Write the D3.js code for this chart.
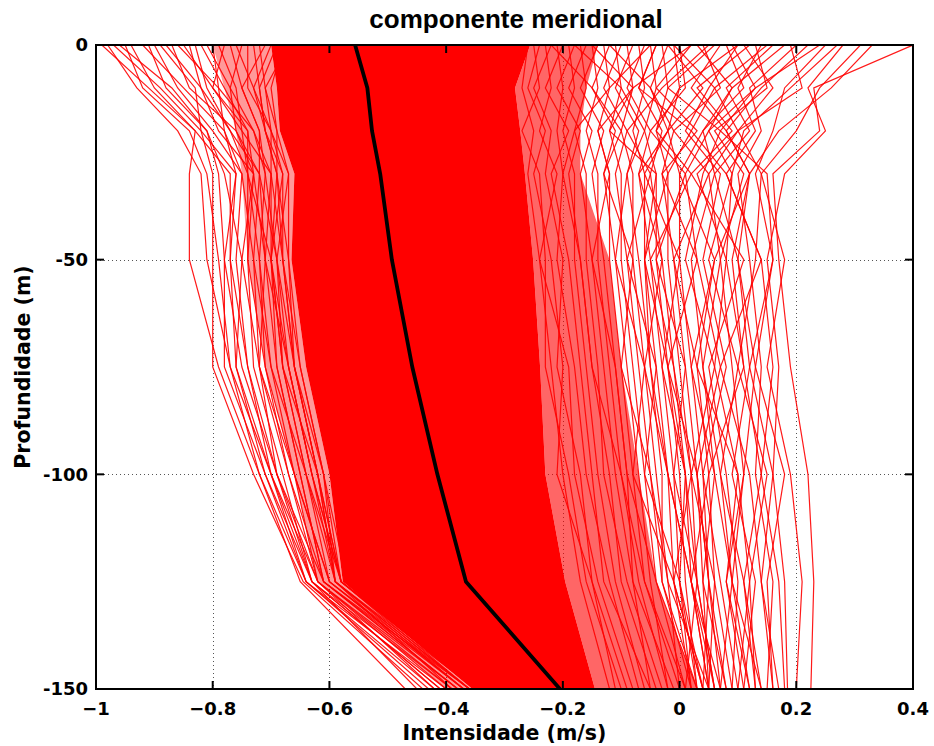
<!DOCTYPE html>
<html>
<head>
<meta charset="utf-8">
<script src="https://cdn.jsdelivr.net/npm/d3@7"></script>
<style>
    body { margin: 0; background: #fff; }
    svg text { font-family: 'DejaVu Sans', Verdana, sans-serif; font-weight: bold; fill: #000; }
</style>
</head>
<body>
<div id="chart"></div>
<script>
// Depth levels of every profile (m)
const depths = [0, -10, -20, -30, -50, -75, -100, -125, -150];

// Mean profile (black line)
const meanProfile = [-0.556, -0.535, -0.527, -0.513, -0.493, -0.458, -0.415, -0.366, -0.205];

// Edges of the solid red core where the profiles overlap completely
const coreLeft = [-0.70, -0.69, -0.685, -0.66, -0.665, -0.64, -0.60, -0.577, -0.355];
const coreRight = [-0.256, -0.282, -0.273, -0.265, -0.251, -0.239, -0.23, -0.196, -0.145];

// Outer edges of the zones where profiles are still packed tightly
const fringeLeft = [-0.80, -0.78, -0.76, -0.75, -0.74, -0.71, -0.66, -0.62, -0.40];
const fringeRight = [-0.14, -0.16, -0.17, -0.17, -0.12, -0.10, -0.07, -0.04, 0.03];

// Individual profiles on the left side of the cloud
const leftProfiles = [
    [-0.99, -0.91, -0.83, -0.84, -0.84, -0.79, -0.72, -0.65, -0.47],
    [-0.98, -0.93, -0.86, -0.82, -0.81, -0.77, -0.70, -0.63, -0.45],
    [-0.97, -0.89, -0.82, -0.80, -0.80, -0.80, -0.73, -0.645, -0.44],
    [-0.96, -0.87, -0.81, -0.79, -0.78, -0.78, -0.71, -0.64, -0.42],
    [-0.95, -0.92, -0.84, -0.81, -0.79, -0.77, -0.72, -0.64, -0.43],
    [-0.94, -0.90, -0.83, -0.77, -0.77, -0.76, -0.70, -0.64, -0.40],
    [-0.92, -0.85, -0.78, -0.76, -0.78, -0.75, -0.69, -0.63, -0.41],
    [-0.91, -0.88, -0.81, -0.78, -0.75, -0.76, -0.71, -0.63, -0.41],
    [-0.90, -0.86, -0.80, -0.75, -0.76, -0.74, -0.69, -0.62, -0.38],
    [-0.89, -0.83, -0.82, -0.76, -0.77, -0.74, -0.70, -0.62, -0.39],
    [-0.88, -0.82, -0.77, -0.74, -0.74, -0.73, -0.68, -0.63, -0.39],
    [-0.87, -0.84, -0.76, -0.73, -0.75, -0.72, -0.67, -0.61, -0.37],
    [-0.86, -0.79, -0.78, -0.75, -0.73, -0.72, -0.69, -0.61, -0.38],
    [-0.85, -0.80, -0.75, -0.74, -0.72, -0.71, -0.66, -0.62, -0.40],
    [-0.84, -0.82, -0.79, -0.73, -0.74, -0.71, -0.67, -0.62, -0.42],
    [-0.83, -0.81, -0.77, -0.72, -0.73, -0.70, -0.66, -0.60, -0.36],
    [-0.82, -0.78, -0.74, -0.73, -0.71, -0.69, -0.65, -0.61, -0.38],
    [-0.81, -0.77, -0.76, -0.72, -0.71, -0.72, -0.66, -0.60, -0.37],
    [-0.80, -0.79, -0.73, -0.71, -0.72, -0.70, -0.64, -0.59, -0.35],
    [-0.79, -0.76, -0.75, -0.70, -0.70, -0.68, -0.64, -0.60, -0.37],
    [-0.78, -0.80, -0.74, -0.74, -0.70, -0.69, -0.65, -0.61, -0.36],
    [-0.77, -0.75, -0.72, -0.71, -0.69, -0.67, -0.63, -0.58, -0.34],
    [-0.76, -0.73, -0.71, -0.69, -0.70, -0.68, -0.62, -0.59, -0.36],
    [-0.75, -0.77, -0.73, -0.70, -0.71, -0.67, -0.63, -0.59, -0.39],
    [-0.74, -0.74, -0.70, -0.68, -0.68, -0.66, -0.62, -0.58, -0.35],
    [-0.73, -0.72, -0.71, -0.69, -0.67, -0.65, -0.61, -0.57, -0.33],
    [-0.72, -0.71, -0.69, -0.67, -0.69, -0.66, -0.61, -0.58, -0.36],
    [-0.71, -0.75, -0.72, -0.72, -0.69, -0.68, -0.64, -0.58, -0.35],
    [-0.70, -0.73, -0.70, -0.70, -0.68, -0.66, -0.62, -0.59, -0.37],
    [-0.69, -0.72, -0.71, -0.68, -0.70, -0.67, -0.63, -0.58, -0.34],
    [-0.68, -0.70, -0.69, -0.69, -0.68, -0.65, -0.61, -0.59, -0.36],
    [-0.67, -0.71, -0.70, -0.67, -0.67, -0.66, -0.62, -0.58, -0.35]
];

// Profiles just right of the core
const midProfiles = [
    [-0.26, -0.27, -0.25, -0.26, -0.24, -0.22, -0.20, -0.17, -0.12],
    [-0.25, -0.24, -0.27, -0.24, -0.23, -0.23, -0.19, -0.16, -0.10],
    [-0.24, -0.26, -0.23, -0.25, -0.22, -0.20, -0.21, -0.15, -0.11],
    [-0.23, -0.22, -0.24, -0.21, -0.24, -0.19, -0.18, -0.14, -0.08],
    [-0.22, -0.25, -0.22, -0.23, -0.20, -0.21, -0.17, -0.15, -0.09],
    [-0.22, -0.15, -0.10, -0.13, -0.08, -0.10, -0.05, -0.02, 0.05],
    [-0.21, -0.20, -0.21, -0.20, -0.21, -0.18, -0.16, -0.12, -0.07],
    [-0.20, -0.23, -0.19, -0.22, -0.19, -0.17, -0.15, -0.13, -0.05],
    [-0.19, -0.18, -0.20, -0.18, -0.18, -0.16, -0.14, -0.11, -0.06],
    [-0.18, -0.21, -0.17, -0.19, -0.17, -0.15, -0.12, -0.10, -0.04],
    [-0.18, -0.10, -0.06, -0.09, -0.11, -0.06, -0.08, -0.01, 0.04],
    [-0.17, -0.16, -0.18, -0.16, -0.16, -0.14, -0.13, -0.09, -0.03],
    [-0.16, -0.19, -0.15, -0.17, -0.15, -0.13, -0.11, -0.08, -0.05],
    [-0.15, -0.14, -0.16, -0.14, -0.14, -0.12, -0.10, -0.07, -0.02],
    [-0.15, -0.08, -0.12, -0.04, -0.06, -0.02, 0.01, 0.03, 0.01],
    [-0.14, -0.17, -0.13, -0.15, -0.13, -0.11, -0.09, -0.08, -0.01],
    [-0.13, -0.12, -0.14, -0.12, -0.12, -0.10, -0.08, -0.06, 0.00],
    [-0.12, -0.15, -0.11, -0.13, -0.11, -0.09, -0.07, -0.05, -0.02],
    [-0.12, -0.05, -0.02, -0.07, -0.03, -0.06, -0.02, 0.02, 0.06],
    [-0.11, -0.10, -0.12, -0.10, -0.10, -0.08, -0.06, -0.04, 0.01],
    [-0.10, -0.13, -0.09, -0.11, -0.09, -0.07, -0.05, -0.03, 0.02],
    [-0.09, -0.08, -0.10, -0.08, -0.08, -0.06, -0.04, -0.02, 0.00],
    [-0.08, -0.11, -0.07, -0.09, -0.07, -0.05, -0.03, -0.03, 0.03],
    [-0.07, -0.06, -0.08, -0.06, -0.06, -0.04, -0.02, -0.01, 0.02],
    [-0.06, -0.09, -0.05, -0.07, -0.05, -0.03, -0.01, 0.00, 0.04],
    [-0.05, -0.12, -0.18, -0.20, -0.17, -0.15, -0.10, -0.06, 0.01],
    [-0.05, -0.04, -0.06, -0.04, -0.04, -0.02, 0.00, 0.01, 0.03],
    [-0.04, -0.07, -0.03, -0.05, -0.03, -0.01, 0.01, 0.02, 0.05],
    [-0.03, -0.02, -0.04, -0.02, -0.02, 0.00, 0.02, 0.03, 0.06],
    [-0.02, -0.05, -0.01, -0.03, -0.01, 0.01, 0.03, 0.04, 0.05],
    [-0.01, 0.00, -0.02, 0.00, 0.00, 0.02, 0.04, 0.05, 0.07],
    [0.02, -0.08, -0.14, -0.12, -0.15, -0.11, -0.09, -0.04, 0.03],
    [0.05, -0.03, -0.09, -0.05, -0.09, -0.04, -0.06, 0.00, 0.02],
    [0.10, 0.00, -0.04, 0.02, -0.05, -0.01, 0.02, -0.01, 0.04]
];

// Sparse profiles on the right side of the cloud
const rightProfiles = [
    [0.40, 0.23, 0.24, 0.16, 0.17, 0.19, 0.22, 0.23, 0.225],
    [0.33, 0.26, 0.17, 0.12, 0.10, 0.13, 0.11, 0.09, 0.07],
    [0.31, 0.24, 0.20, 0.14, 0.18, 0.15, 0.19, 0.21, 0.20],
    [0.28, 0.22, 0.25, 0.18, 0.15, 0.17, 0.16, 0.18, 0.185],
    [0.27, 0.19, 0.11, 0.09, 0.08, 0.06, 0.10, 0.12, 0.10],
    [0.25, 0.18, 0.16, 0.13, 0.16, 0.13, 0.18, 0.15, 0.16],
    [0.24, 0.13, 0.07, 0.15, 0.16, 0.12, 0.16, 0.14, 0.17],
    [0.22, 0.14, 0.08, 0.12, 0.09, 0.11, 0.14, 0.11, 0.14],
    [0.20, 0.12, 0.14, 0.10, 0.12, 0.14, 0.13, 0.16, 0.15],
    [0.19, 0.21, 0.10, 0.14, 0.13, 0.10, 0.15, 0.12, 0.13],
    [0.18, 0.09, 0.04, 0.06, 0.02, 0.04, 0.07, 0.11, 0.13],
    [0.16, 0.08, 0.12, 0.06, 0.10, 0.12, 0.09, 0.13, 0.11],
    [0.15, 0.06, 0.02, 0.08, 0.14, 0.16, 0.14, 0.17, 0.18],
    [0.14, 0.10, 0.13, 0.08, 0.14, 0.07, 0.12, 0.14, 0.16],
    [0.13, 0.15, 0.06, 0.11, 0.07, 0.09, 0.11, 0.08, 0.12],
    [0.12, 0.03, 0.09, 0.02, 0.11, 0.05, 0.08, 0.10, 0.09],
    [0.11, 0.16, 0.10, 0.03, 0.08, 0.11, 0.05, 0.06, 0.09],
    [0.10, 0.05, 0.01, 0.07, 0.04, 0.08, 0.04, 0.07, 0.10],
    [0.09, 0.13, 0.05, 0.09, 0.05, 0.10, 0.07, 0.09, 0.12],
    [0.08, 0.11, 0.04, 0.00, 0.06, 0.02, 0.06, 0.04, 0.08],
    [0.07, 0.02, 0.08, 0.12, 0.06, 0.03, 0.10, 0.08, 0.11],
    [0.06, -0.02, 0.07, 0.04, 0.01, 0.06, 0.02, 0.06, 0.05],
    [0.04, 0.07, -0.01, 0.05, -0.01, 0.03, 0.05, 0.02, 0.07],
    [0.03, 0.09, 0.05, 0.01, 0.03, 0.07, 0.03, 0.05, 0.08],
    [0.02, -0.04, 0.03, -0.03, 0.03, -0.02, 0.03, 0.05, 0.04],
    [0.00, 0.01, -0.05, 0.01, -0.04, 0.01, -0.01, 0.03, 0.06],
    [-0.01, 0.06, 0.10, 0.05, 0.07, 0.04, 0.06, 0.09, 0.14],
    [-0.02, 0.04, -0.02, -0.06, 0.00, -0.03, 0.01, 0.00, 0.03],
    [-0.04, -0.07, 0.02, -0.02, -0.06, -0.05, -0.02, 0.02, 0.05]
];

// Axis ticks
const xTicks = [-1, -0.8, -0.6, -0.4, -0.2, 0, 0.2, 0.4];
const yTicks = [0, -50, -100, -150];

// Titles
const titleText = 'componente meridional';
const xLabel = 'Intensidade (m/s)';
const yLabel = 'Profundidade (m)';

// SVG dimensions and plot box
const width = 934;
const height = 746;
const margin = { top: 45, right: 21, bottom: 57, left: 96 };

const svg = d3.select('#chart')
    .append('svg')
    .attr('width', width)
    .attr('height', height);

const x = d3.scaleLinear().domain([-1, 0.4]).range([margin.left, width - margin.right]);
const y = d3.scaleLinear().domain([-150, 0]).range([height - margin.bottom, margin.top]);

svg.append('defs').append('clipPath')
    .attr('id', 'plotClip')
    .append('rect')
    .attr('x', x(-1))
    .attr('y', y(0))
    .attr('width', x(0.4) - x(-1))
    .attr('height', y(-150) - y(0));

// Dotted grid
const grid = svg.append('g')
    .attr('stroke', '#555')
    .attr('stroke-width', 1)
    .attr('stroke-dasharray', '1,3');

grid.selectAll('line.gx')
    .data(xTicks.slice(1, -1))
    .join('line')
    .attr('class', 'gx')
    .attr('x1', d => Math.round(x(d)) + 0.5)
    .attr('x2', d => Math.round(x(d)) + 0.5)
    .attr('y1', y(0))
    .attr('y2', y(-150));

grid.selectAll('line.gy')
    .data(yTicks.slice(1, -1))
    .join('line')
    .attr('class', 'gy')
    .attr('x1', x(-1))
    .attr('x2', x(0.4))
    .attr('y1', d => Math.round(y(d)) + 0.5)
    .attr('y2', d => Math.round(y(d)) + 0.5);

const plot = svg.append('g').attr('clip-path', 'url(#plotClip)');

// Tightly packed fringes either side of the core
const bandArea = (left, right) => d3.area()
    .x0((d, i) => x(left[i]))
    .x1((d, i) => x(right[i]))
    .y(d => y(d));

plot.append('path')
    .datum(depths)
    .attr('fill', '#ff0000')
    .attr('fill-opacity', 0.4)
    .attr('d', bandArea(fringeLeft, coreLeft));

plot.append('path')
    .datum(depths)
    .attr('fill', '#ff0000')
    .attr('fill-opacity', 0.6)
    .attr('d', bandArea(coreRight, fringeRight));

// Solid core of overlapping profiles
plot.append('path')
    .datum(depths)
    .attr('fill', '#ff0000')
    .attr('d', bandArea(coreLeft, coreRight));

// Individual profiles
const profileLine = d3.line()
    .x(d => x(d[0]))
    .y(d => y(d[1]));

const allProfiles = [...leftProfiles, ...midProfiles, ...rightProfiles];

plot.append('g')
    .attr('fill', 'none')
    .attr('stroke', '#ff0000')
    .attr('stroke-width', 1.2)
    .attr('stroke-opacity', 0.9)
    .selectAll('path')
    .data(allProfiles)
    .join('path')
    .attr('d', p => profileLine(p.map((v, i) => [v, depths[i]])));

// Mean profile
plot.append('path')
    .datum(meanProfile.map((v, i) => [v, depths[i]]))
    .attr('fill', 'none')
    .attr('stroke', '#000')
    .attr('stroke-width', 3.8)
    .attr('stroke-linejoin', 'round')
    .attr('d', profileLine);

// Axes box with inward ticks
const tickLen = 8;
const axes = svg.append('g').attr('stroke', '#000');

axes.append('rect')
    .attr('x', x(-1))
    .attr('y', y(0))
    .attr('width', x(0.4) - x(-1))
    .attr('height', y(-150) - y(0))
    .attr('fill', 'none')
    .attr('stroke-width', 2);

axes.selectAll('line.tb')
    .data(xTicks)
    .join('line')
    .attr('class', 'tb')
    .attr('stroke-width', 2)
    .attr('x1', d => x(d)).attr('x2', d => x(d))
    .attr('y1', y(-150)).attr('y2', y(-150) - tickLen);

axes.selectAll('line.tt')
    .data(xTicks)
    .join('line')
    .attr('class', 'tt')
    .attr('stroke-width', 2)
    .attr('x1', d => x(d)).attr('x2', d => x(d))
    .attr('y1', y(0)).attr('y2', y(0) + tickLen);

axes.selectAll('line.tl')
    .data(yTicks)
    .join('line')
    .attr('class', 'tl')
    .attr('stroke-width', 2)
    .attr('x1', x(-1)).attr('x2', x(-1) + tickLen)
    .attr('y1', d => y(d)).attr('y2', d => y(d));

axes.selectAll('line.tr')
    .data(yTicks)
    .join('line')
    .attr('class', 'tr')
    .attr('stroke-width', 2)
    .attr('x1', x(0.4)).attr('x2', x(0.4) - tickLen)
    .attr('y1', d => y(d)).attr('y2', d => y(d));

// Tick labels
svg.append('g')
    .selectAll('text')
    .data(xTicks)
    .join('text')
    .attr('x', d => x(d))
    .attr('y', y(-150) + 26)
    .attr('text-anchor', 'middle')
    .style('font-size', '18px')
    .text(d => d3.format('~g')(d));

svg.append('g')
    .selectAll('text')
    .data(yTicks)
    .join('text')
    .attr('x', x(-1) - 8)
    .attr('y', d => y(d))
    .attr('dy', '0.35em')
    .attr('text-anchor', 'end')
    .style('font-size', '18px')
    .text(d => d);

// Title and axis labels
svg.append('text')
    .attr('x', 516)
    .attr('y', 28)
    .attr('text-anchor', 'middle')
    .style('font-family', "'Liberation Sans', Arial, sans-serif")
    .style('font-size', '26px')
    .text(titleText);

svg.append('text')
    .attr('x', (x(-1) + x(0.4)) / 2)
    .attr('y', 740)
    .attr('text-anchor', 'middle')
    .style('font-size', '20.5px')
    .text(xLabel);

svg.append('text')
    .attr('transform', `translate(30,${(y(0) + y(-150)) / 2}) rotate(-90)`)
    .attr('text-anchor', 'middle')
    .style('font-size', '20.5px')
    .text(yLabel);
</script>
</body>
</html>
